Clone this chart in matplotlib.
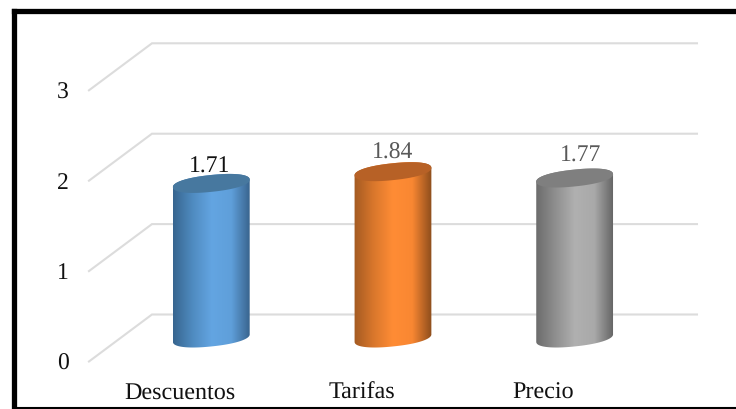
import numpy as np
import matplotlib
matplotlib.use('Agg')
import matplotlib.pyplot as plt
from matplotlib.colors import LinearSegmentedColormap
from matplotlib.patches import Polygon

categories = ['Descuentos', 'Tarifas', 'Precio']
values = [1.71, 1.84, 1.77]
y_ticks = [0, 1, 2, 3]
label_colors = ['#111111', '#595959', '#595959']
side_colors = [
    ['#37658f', '#4f8bc0', '#63a5e2', '#5f9fda', '#37618a'],
    ['#a35a22', '#d9772c', '#ff8c35', '#f98732', '#8c4d1c'],
    ['#6c6c6c', '#8f8f8f', '#b0b0b0', '#a9a9a9', '#636363'],
]
top_colors = ['#47789f', '#b76126', '#7f7f7f']

W, H = 736, 410
plt.rcParams['font.family'] = ['Liberation Serif', 'DejaVu Serif']
plt.rcParams['text.hinting'] = 'none'

fig = plt.figure(figsize=(W / 100, H / 100), dpi=100, facecolor='white')

# outer frame, open on the right
frame = fig.add_axes([13.5 / W, 1 - 409 / H, (W + 10 - 13.5) / W, (409 - 11.5) / H])
frame.set_xticks([])
frame.set_yticks([])
frame.spines['right'].set_visible(False)
frame.spines['left'].set_linewidth(3.8)
frame.spines['top'].set_linewidth(3.8)
frame.spines['bottom'].set_linewidth(1.5)
frame.patch.set_alpha(0)

ax = fig.add_axes([0, 0, 1, 1])
ax.patch.set_alpha(0)
ax.axis('off')

# scale: 181.67 px per category, 90.4 px per unit
PX_X = 181.67
PX_Y = 90.4
ax.set_xlim(-211.3 / PX_X, (W - 211.3) / PX_X)
ax.set_ylim((339 - H) / PX_Y, 339 / PX_Y)

depth_x = 31.5 / PX_X
depth_y = 23.5 / PX_Y
x_min, x_max = -0.5, len(categories) - 0.5

# floor/back gridlines
for v in y_ticks:
    ax.plot([x_min - depth_x, x_min + depth_x, x_max + depth_x],
            [v - depth_y, v + depth_y, v + depth_y],
            color='#dcdcdc', lw=1.5, zorder=1, solid_joinstyle='miter')
    ax.text(x_min - depth_x - 26 / PX_X, v - depth_y - 1.5 / PX_Y, str(v), fontsize=17,
            ha='center', va='center', color='#111111')


def ellipse(cx, cy, t):
    # tilted cap outline with slightly blunt ends, in data units
    rx, ry, tilt = 38.6, 8.4, np.radians(6.0)
    c = np.sign(np.cos(t)) * np.abs(np.cos(t)) ** 0.9
    s = np.sign(np.sin(t)) * np.abs(np.sin(t)) ** 0.9
    px = rx * c * np.cos(tilt) - ry * s * np.sin(tilt)
    py = rx * c * np.sin(tilt) + ry * s * np.cos(tilt)
    return cx + px / PX_X, cy + py / PX_Y


label_dx = [-2, 0, 5.5]
label_dy = [18, 20, 23]
for i, (name, v) in enumerate(zip(categories, values)):
    t_low = np.linspace(np.pi, 2 * np.pi, 80)
    t_up = np.linspace(0, np.pi, 80)
    bx, by = ellipse(i, 0, t_low)
    tx, ty = ellipse(i, v, t_up)
    body = Polygon(np.column_stack([np.r_[bx, tx], np.r_[by, ty]]),
                   closed=True, fc='none', ec='none', zorder=2)
    ax.add_patch(body)
    half = 38.6 / PX_X
    cmap = LinearSegmentedColormap.from_list('side' + str(i), side_colors[i])
    im = ax.imshow(np.linspace(0, 1, 256).reshape(1, -1), cmap=cmap, aspect='auto',
                   extent=(i - half, i + half, -0.2, v + 0.2), zorder=2,
                   interpolation='bilinear')
    im.set_clip_path(body)

    cx, cy = ellipse(i, v, np.linspace(0, 2 * np.pi, 160))
    ax.fill(cx, cy, color=top_colors[i], lw=0, zorder=3)

    ax.text(i + label_dx[i] / PX_X, v + label_dy[i] / PX_Y, f'{v:.2f}', fontsize=17,
            ha='center', va='center', color=label_colors[i], zorder=4)
    ax.text(i - depth_x, -0.26 - 30 / PX_Y, name, fontsize=17.4,
            ha='center', va='center', color='#111111')

ax.set_xlim(-211.3 / PX_X, (W - 211.3) / PX_X)
ax.set_ylim((339 - H) / PX_Y, 339 / PX_Y)

fig.savefig('out.png', dpi=100)
